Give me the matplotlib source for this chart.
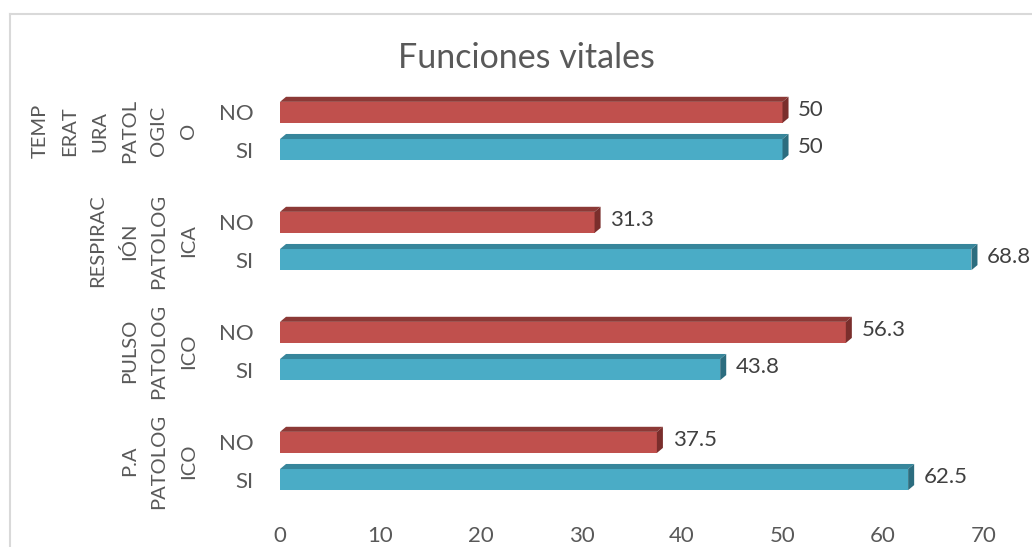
import matplotlib
matplotlib.use("Agg")
import matplotlib.pyplot as plt
from matplotlib.patches import Polygon, Rectangle
from matplotlib.lines import Line2D
import matplotlib.transforms as mtransforms

plt.rcParams['font.family'] = ['Lato', 'DejaVu Sans']

# Data (bottom to top, as in the chart)
groups = ["P.A\nPATOLOG\nICO", "PULSO\nPATOLOG\nICO",
          "RESPIRAC\nIÓN\nPATOLOG\nICA", "TEMP\nERAT\nURA\nPATOL\nOGIC\nO"]
no_vals = [37.5, 56.3, 31.3, 50]
si_vals = [62.5, 43.8, 68.8, 50]
no_labels = ["37.5", "56.3", "31.3", "50"]
si_labels = ["62.5", "43.8", "68.8", "50"]
xticks = [0, 10, 20, 30, 40, 50, 60, 70]
title = "Funciones vitales"

W, H = 1032, 547
fig = plt.figure(figsize=(W / 100, H / 100), dpi=100)
ax = fig.add_axes([280 / W, (H - 516) / H, 703.5 / W, 440 / H])
ax.set_xlim(0, 70)
ax.set_ylim(-0.5, 3.5)

off = 0.169
h = 0.192
dx = 0.6
dy = 0.046

red = dict(front="#C0504D", top="#8C3936", side="#7A2E2C")
teal = dict(front="#4AACC6", top="#37869B", side="#2C6D7F")

def bar3d(v, c, col, label):
    y0, y1 = c - h / 2, c + h / 2
    ax.add_patch(Rectangle((0, y0), v, h, facecolor=col["front"],
                           edgecolor="none", zorder=3))
    ax.add_patch(Polygon([(0, y1), (v, y1), (v + dx, y1 + dy), (dx, y1 + dy)],
                         closed=True, facecolor=col["top"], edgecolor="none", zorder=3))
    ax.add_patch(Polygon([(v, y0), (v + dx, y0 + dy), (v + dx, y1 + dy), (v, y1)],
                         closed=True, facecolor=col["side"], edgecolor="none", zorder=3))
    ax.annotate(label, xy=(v + dx, c + dy / 2), xytext=(7, 0),
                textcoords="offset points", ha="left", va="center",
                fontsize=16, color="#404040")

for i in range(len(groups)):
    bar3d(no_vals[i], i + off, red, no_labels[i])
    bar3d(si_vals[i], i - off, teal, si_labels[i])

yt, yl = [], []
for i in range(len(groups)):
    yt += [i - off, i + off]
    yl += ["SI", "NO"]
ax.set_yticks(yt)
ax.set_yticklabels(yl)
ax.tick_params(axis="y", length=0, pad=19, labelsize=16, labelcolor="#595959")
ax.set_xticks(xticks)
ax.set_xticklabels([str(t) for t in xticks])
ax.tick_params(axis="x", length=0, pad=7, labelsize=16, labelcolor="#595959")
for s in ax.spines.values():
    s.set_visible(False)

trans = mtransforms.blended_transform_factory(ax.transAxes, ax.transData)
for i, g in enumerate(groups):
    ax.text((197 - 280) / 703.5, i, g, transform=trans, rotation=90,
            ha="right", va="center", multialignment="center",
            fontsize=14.5, color="#595959", linespacing=1.9)

fig.text(526.5 / W, 1 - 58 / H, title, ha="center", va="center",
         fontsize=24.5, color="#595959")

# chart-area border
bx, by = 9.5 / W, 1 - 13.5 / H
fig.add_artist(Line2D([bx, bx], [0, by], transform=fig.transFigure,
                      color="#D9D9D9", lw=1.5))
fig.add_artist(Line2D([bx, 1], [by, by], transform=fig.transFigure,
                      color="#D9D9D9", lw=1.5))

fig.savefig("out.png", dpi=100)
